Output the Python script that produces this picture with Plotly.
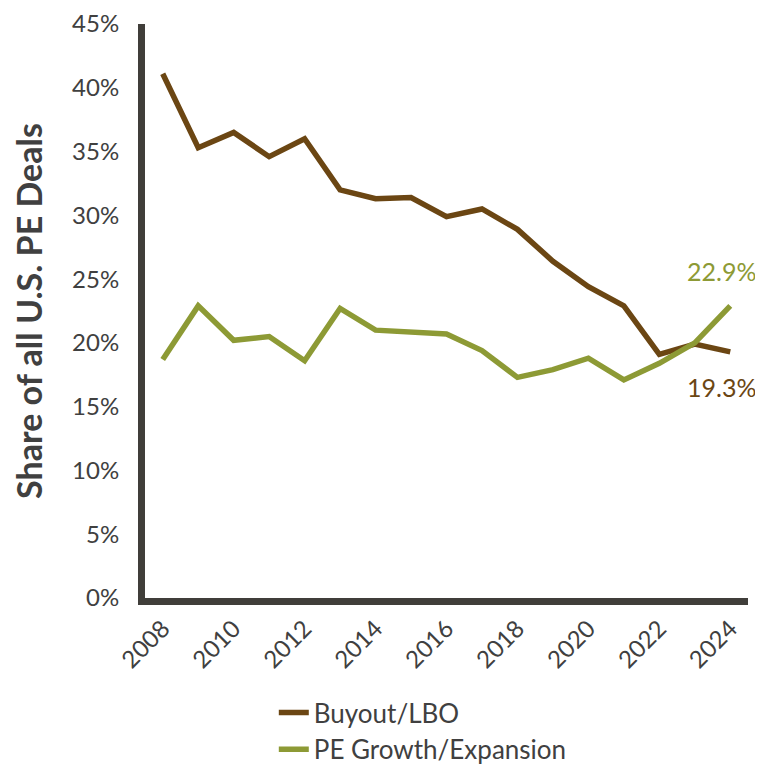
import plotly.graph_objects as go

years = list(range(2008, 2025))
buyout = [41.1, 35.3, 36.5, 34.6, 36.0, 32.0, 31.3, 31.4, 29.9, 30.5, 28.9,
          26.4, 24.4, 22.9, 19.1, 19.9, 19.3]
growth = [18.7, 22.9, 20.2, 20.5, 18.6, 22.7, 21.0, 20.9, 20.7, 19.4, 17.3,
          17.9, 18.8, 17.1, 18.4, 20.0, 22.9]
y_ticks = [0, 5, 10, 15, 20, 25, 30, 35, 40, 45]
x_ticks = list(range(2008, 2025, 2))

BROWN = "#6B4613"
OLIVE = "#8D9A35"
AXIS = "#403E3A"
TEXT = "#404040"
FONT = "Lato"

fig = go.Figure()
fig.add_trace(go.Scatter(x=years, y=buyout, mode="lines", name="Buyout/LBO",
                         line=dict(color=BROWN, width=5.5)))
fig.add_trace(go.Scatter(x=years, y=growth, mode="lines", name="PE Growth/Expansion",
                         line=dict(color=OLIVE, width=5.5)))

fig.add_annotation(x=years[-1], y=growth[-1], text=f"{growth[-1]:.1f}%", showarrow=False,
                   xshift=-9, yshift=35, font=dict(color=OLIVE, size=25, family=FONT))
fig.add_annotation(x=years[-1], y=buyout[-1], text=f"{buyout[-1]:.1f}%", showarrow=False,
                   xshift=-9, yshift=-35, font=dict(color=BROWN, size=25, family=FONT))

fig.update_layout(
    width=755, height=756,
    margin=dict(l=137, r=15, t=16, b=166, autoexpand=False),
    paper_bgcolor="white", plot_bgcolor="white",
    font=dict(family=FONT, color=TEXT, size=24),
    showlegend=True,
    legend=dict(orientation="v", x=0.2136, xanchor="left", y=-0.1585, yanchor="top",
                font=dict(size=26, color=TEXT, family=FONT), tracegroupgap=0,
                itemwidth=30, bgcolor="rgba(0,0,0,0)"),
    xaxis=dict(range=[2007.5, 2024.5], tickmode="array", tickvals=x_ticks,
               ticktext=[str(v) for v in x_ticks], tickangle=-45, automargin=False,
               ticklabeloverflow="allow",
               showline=True, linecolor=AXIS, linewidth=7, showgrid=False,
               zeroline=False, ticks="", tickfont=dict(size=24, color=TEXT)),
    yaxis=dict(range=[0, 45], tickmode="array", tickvals=y_ticks,
               ticktext=[f"{v}%" for v in y_ticks], automargin=False,
               ticklabeloverflow="allow",
               showline=True, linecolor=AXIS, linewidth=7, showgrid=False,
               zeroline=False, ticks="", ticklabelstandoff=14,
               tickfont=dict(size=24, color=TEXT),
               title=dict(text="<b>Share of all U.S. PE Deals</b>", standoff=34,
                          font=dict(size=34, color=TEXT, family=FONT))),
)

fig.write_html("out.html")
